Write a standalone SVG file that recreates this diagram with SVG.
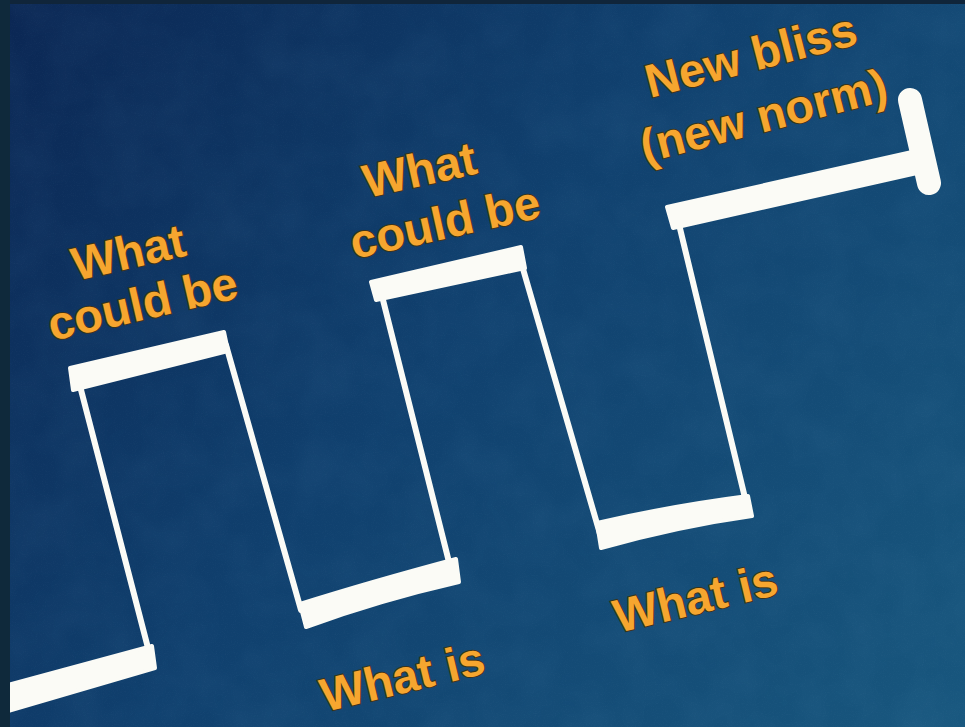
<svg xmlns="http://www.w3.org/2000/svg" width="965" height="727" viewBox="0 0 965 727">
  <defs>
    <linearGradient id="bg" gradientUnits="userSpaceOnUse" x1="10" y1="4" x2="965" y2="727">
      <stop offset="0" stop-color="#0b2754"/>
      <stop offset="0.45" stop-color="#10406e"/>
      <stop offset="1" stop-color="#18577e"/>
    </linearGradient>
    <filter id="grain" x="0" y="0" width="100%" height="100%">
      <feTurbulence type="fractalNoise" baseFrequency="0.9" numOctaves="2" seed="3"/>
      <feColorMatrix type="matrix" values="0 0 0 0 0.7  0 0 0 0 0.85  0 0 0 0 1  0 0 0 0.9 -0.45"/>
    </filter>
    <filter id="mottle" x="0" y="0" width="100%" height="100%">
      <feTurbulence type="fractalNoise" baseFrequency="0.02" numOctaves="3" seed="7"/>
      <feColorMatrix type="matrix" values="0 0 0 0 0.2  0 0 0 0 0.45  0 0 0 0 0.7  0 0 0 0.5 -0.15"/>
    </filter>
  </defs>
  <style>
    .bar { fill: #fbfbf6; stroke: #fbfbf6; stroke-width: 4; stroke-linejoin: round; }
    .thin { fill: none; stroke: #fbfbf6; stroke-width: 6; stroke-linecap: round; }
    .cap { fill: none; stroke: #fbfbf6; stroke-width: 24; stroke-linecap: round; }
    .lbl { font-family: "Liberation Sans", Arial, sans-serif; font-weight: bold; font-size: 47px; fill: #f6a62f; stroke: #3d3418; stroke-width: 2; paint-order: stroke fill; }
  </style>

  <!-- background -->
  <rect x="0" y="0" width="965" height="727" fill="url(#bg)"/>
  <rect x="0" y="0" width="965" height="727" filter="url(#mottle)" opacity="0.18"/>
  <rect x="0" y="0" width="965" height="727" filter="url(#grain)" opacity="0.08"/>

  <!-- wave -->
  <g id="wave">
    <polygon class="bar" points="8,685 152,646 155,668 8,711"/>
    <line class="thin" x1="148" y1="648" x2="80" y2="386"/>
    <polygon class="bar" points="70,368 224,332 228,351 73,390"/>
    <line class="thin" x1="226" y1="345" x2="301" y2="610"/>
    <path class="bar" d="M300,604 Q370,582 456,559 L459,582 Q380,600 306,627 Z"/>
    <line class="thin" x1="450" y1="566" x2="381" y2="292"/>
    <polygon class="bar" points="371,282 521,247 525,268 376,300"/>
    <line class="thin" x1="521" y1="262" x2="600" y2="534"/>
    <path class="bar" d="M597,523 Q670,506 748,496 L752,516 Q680,526 601,548 Z"/>
    <line class="thin" x1="746" y1="502" x2="677" y2="216"/>
    <polygon class="bar" points="667,207 912,152 917,173 673,228"/>
    <line class="cap" x1="910" y1="100" x2="929" y2="183"/>
  </g>

  <!-- frame edges -->
  <rect x="0" y="0" width="965" height="4" fill="#10253a"/>
  <rect x="0" y="0" width="10" height="727" fill="#0f293b"/>

  <!-- labels -->
  <g id="label-could-be-1">
    <text class="lbl" transform="translate(76,281) rotate(-13)">What</text>
    <text class="lbl" transform="translate(52,341) rotate(-13)">could be</text>
  </g>
  <g id="label-could-be-2">
    <text class="lbl" transform="translate(367,198) rotate(-12.5)">What</text>
    <text class="lbl" transform="translate(354,259) rotate(-12.5)">could be</text>
  </g>
  <g id="label-new-bliss">
    <text class="lbl" transform="translate(650,98) rotate(-14.5)">New bliss</text>
    <text class="lbl" transform="translate(645,163) rotate(-14.5)">(new norm)</text>
  </g>
  <g id="label-what-is-1">
    <text class="lbl" transform="translate(325,712) rotate(-13.5)">What is</text>
  </g>
  <g id="label-what-is-2">
    <text class="lbl" transform="translate(618,633) rotate(-13.5)">What is</text>
  </g>
</svg>
